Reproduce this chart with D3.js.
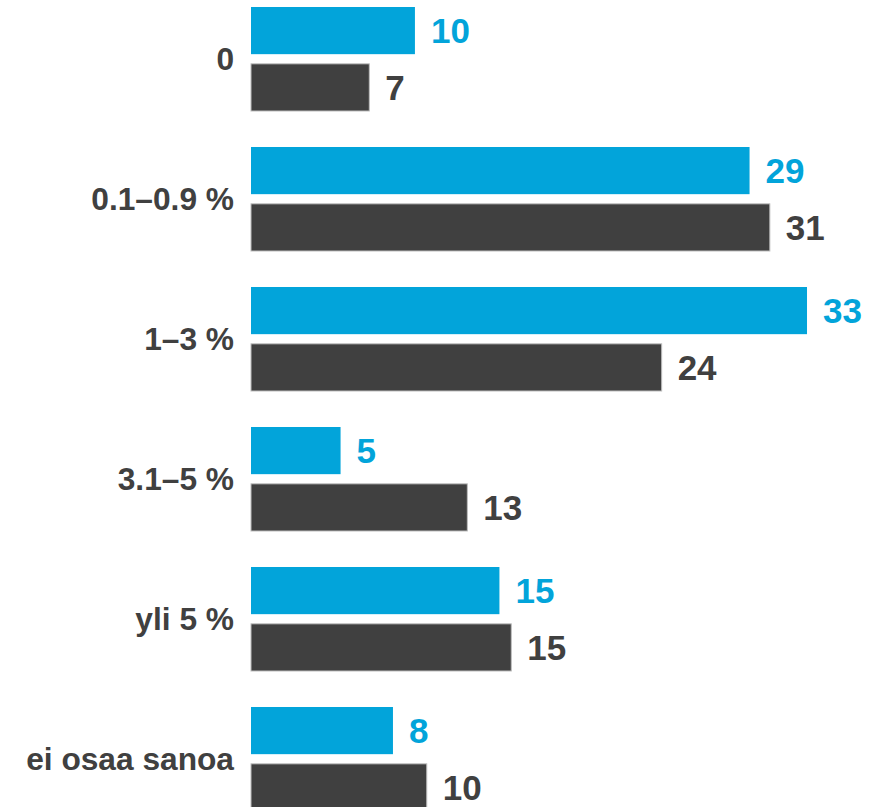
<!DOCTYPE html>
<html>
<head>
<meta charset="utf-8">
<script src="https://cdn.jsdelivr.net/npm/d3@7"></script>
<style>
    body { margin: 0; background: #ffffff; }
    svg { display: block; }
    text { font-family: "Liberation Sans", Arial, sans-serif; font-weight: bold; }
    .cat { fill: #404040; font-size: 31.7px; }
    .val { font-size: 35px; }
</style>
</head>
<body>
<svg id="chart" width="887" height="807"></svg>
<script>
// categories and the two series (bar lengths), plus the labels printed next to them
let categories = ['0', '0.1–0.9 %', '1–3 %', '3.1–5 %', 'yli 5 %', 'ei osaa sanoa'];
let seriesNames = ['blue', 'dark'];
let blueValues = [9.7, 29.5, 32.9, 5.3, 14.7, 8.4];
let darkValues = [7.0, 30.7, 24.3, 12.8, 15.4, 10.4];
let blueLabels = ['10', '29', '33', '5', '15', '8'];
let darkLabels = ['7', '31', '24', '13', '15', '10'];

var config = {
    left: 251,
    top: 7,
    step: 140,
    groupHeight: 104
}

var colors = {
    blue: '#02a4da',
    dark: '#404040'
}

let svg = d3.select('#chart');

let x = d3.scaleLinear()
    .domain([0, 35])
    .range([config.left, config.left + 35 * 16.9]);

let y0 = d3.scaleBand()
    .domain(categories)
    .range([config.top, config.top + 5 * config.step + config.groupHeight])
    .paddingInner((config.step - config.groupHeight) / config.step)
    .paddingOuter(0);

let y1 = d3.scaleBand()
    .domain(seriesNames)
    .range([0, config.groupHeight])
    .paddingInner(0.17);

function rowsFor(i){
    return [
        {key: 'blue', value: blueValues[i], label: blueLabels[i]},
        {key: 'dark', value: darkValues[i], label: darkLabels[i]}
    ]
}

function drawGroup(d, i){
    let g = d3.select(this);
    let rows = rowsFor(i);

    g.selectAll('rect')
        .data(rows)
        .join('rect')
        .attr('x', x(0))
        .attr('y', r => y1(r.key))
        .attr('width', r => x(r.value) - x(0))
        .attr('height', y1.bandwidth())
        .attr('fill', r => colors[r.key])
        .attr('stroke', r => r.key == 'dark' ? '#bdbdbd' : 'none')
        .attr('stroke-width', 1);

    g.selectAll('text.val')
        .data(rows)
        .join('text')
        .attr('class', 'val')
        .attr('x', r => x(r.value) + 16)
        .attr('y', r => y1(r.key) + y1.bandwidth() / 2)
        .attr('dy', '0.36em')
        .attr('fill', r => colors[r.key])
        .text(r => r.label);

    g.append('text')
        .attr('class', 'cat')
        .attr('x', config.left - 17)
        .attr('y', config.groupHeight / 2)
        .attr('dy', '0.36em')
        .attr('text-anchor', 'end')
        .text(d);
}

svg.selectAll('g.group')
    .data(categories)
    .join('g')
    .attr('class', 'group')
    .attr('transform', d => 'translate(0,' + y0(d) + ')')
    .each(drawGroup);
</script>
</body>
</html>
